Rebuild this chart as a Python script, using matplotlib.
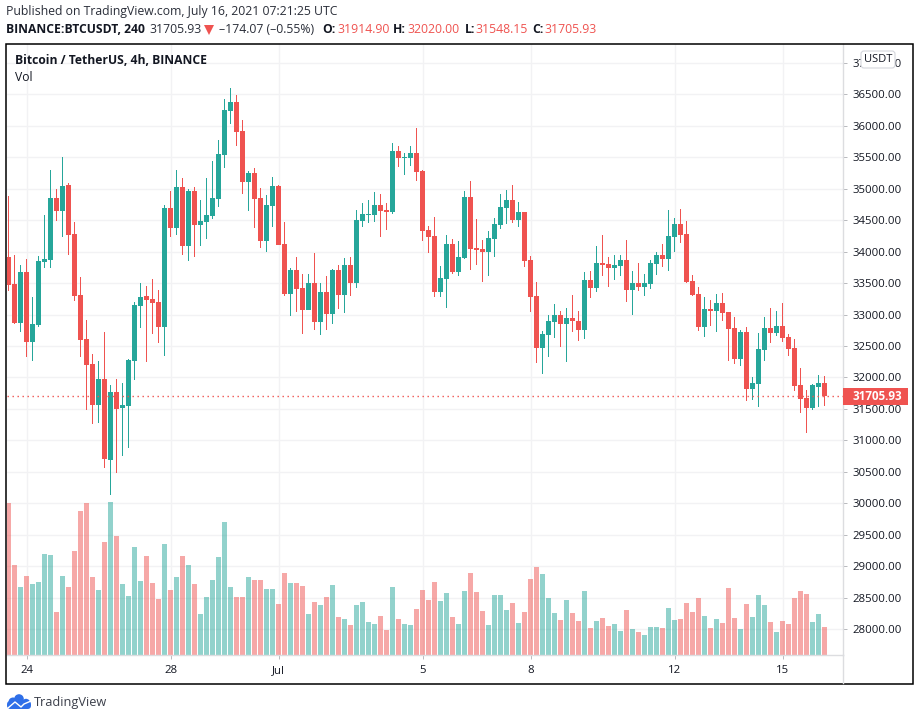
import matplotlib
matplotlib.use("Agg")
import matplotlib.pyplot as plt
from matplotlib.patches import Rectangle, FancyBboxPatch, Circle

# --- data (BTCUSDT 4h candles) ---
opens = [33916,33487,32867,33677,32565,32835,33836,33868,34853,34647,35060,34281,33312,32613,32216,31564,31977,30690,31771,31516,
 31548,32263,33137,33296,33248,33201,32803,34694,34377,35028,34091,34964,34424,34472,34567,34837,35536,36235,36378,35918,
 35107,35250,34853,34170,34726,35043,34122,33328,33709,33423,33073,33502,32883,33359,33010,33709,33312,33788,33502,34487,
 34583,34583,34742,34662,34630,35600,35488,35488,35568,35282,34344,34249,33359,33566,34122,33677,33900,34869,34058,34043,
 33995,34201,34424,34694,34821,34503,34630,33868,33296,32470,32676,32883,32994,32851,32946,32899,32756,33550,33423,33820,
 33804,33741,33772,33868,33391,33502,33439,33486,33804,33947,33884,34233,34440,34281,33534,33328,32803,33089,33057,33185,
 33042,32787,32295,32724,31818,31898,32438,32787,32708,32819,32644,32470,31882,31675,31516,31850,31914.90]
closes = [33476,32867,33677,32565,32851,33852,33884,34853,34647,35044,34265,33296,32597,32200,31564,31977,30706,31771,31501,31564,
 32279,33153,33280,33232,33185,32803,34694,34377,35028,34091,34964,34424,34488,34583,34853,35552,36251,36378,35902,35107,
 35250,34837,34170,34742,35044,34106,33328,33709,33407,33073,33502,32883,33359,33010,33709,33312,33788,33502,34503,34599,
 34599,34742,34646,34630,35600,35488,35504,35568,35266,34329,34233,33359,33582,34122,33677,33915,34869,34043,34027,33995,
 34217,34440,34710,34821,34503,34630,33852,33280,32470,32692,32899,32994,32851,32946,32899,32756,33550,33423,33820,33788,
 33741,33788,33868,33391,33502,33439,33502,33820,33947,33884,34249,34440,34265,33518,33312,32803,33089,33057,33185,33026,
 32771,32295,32724,31818,31914,32454,32787,32708,32819,32628,32454,31866,31659,31516,31882,31914,31705.93]
highs = [34885,33948,33789,33884,33280,33932,34583,35298,34996,35505,35092,34472,33598,32915,32374,32263,32724,31882,31977,31914,
 32295,33201,33502,33455,33566,33391,34742,34964,35298,35171,34996,35028,34821,35171,35441,35775,36426,36601,36490,36092,
 35282,35330,35012,34901,35187,35059,34472,33741,33915,33645,33645,33979,33502,33614,33725,33788,33900,33915,34662,34773,
 34821,34948,34916,34773,35727,35679,35568,35679,35965,35298,34408,34551,33773,34265,34201,34170,34964,35123,34519,34186,
 34329,34535,34916,34980,35059,34789,34630,33931,33518,32740,32994,33169,33057,33105,33312,33057,33677,33693,34090,34265,
 33915,33947,33947,34185,33693,33820,33645,33868,33995,34122,34662,34535,34678,34487,33629,33439,33280,33232,33328,33343,
 33042,32962,32756,32803,32009,32708,32962,33105,33057,33185,32692,32613,32152,31802,31898,32041,32020.00]
lows = [33381,32851,32724,32327,32263,32803,33741,33741,34488,34234,33948,33216,32327,31485,31262,31278,30563,30134,30484,30754,
 30881,31961,32788,32247,32692,32549,32343,34234,34265,33948,33852,33916,34091,34202,34520,34710,35330,36029,35679,34917,
 34647,34377,34059,34001,34392,34106,33296,32978,33042,32692,33073,32756,32676,32756,32851,33089,33026,33296,33423,34392,
 34456,34472,34233,34344,34599,35345,35218,35361,35123,34170,33979,33280,33280,33105,33645,33614,33884,33709,33788,33518,
 33614,33915,34360,34440,34456,34392,33757,33042,32231,32057,32327,32628,32485,32247,32724,32581,32613,33264,33359,33614,
 33439,33550,33614,33200,32994,33375,33296,33407,33629,33756,33693,33995,34138,33502,33296,32740,32644,32819,32724,32899,
 32263,32215,32184,31627,31643,31532,32263,32549,32660,32565,32343,31786,31437,31119,31485,31532,31548.15]
volumes = [152,90,68,79,71,73,101,100,43,79,68,104,144,152,78,65,113,153,119,71,
 59,108,74,99,72,56,111,65,78,99,90,71,41,58,75,98,133,68,58,58,
 78,75,75,66,66,51,82,72,72,69,41,53,50,58,70,38,36,30,50,53,
 33,31,39,25,68,36,31,30,46,65,55,73,54,62,38,31,64,82,63,44,
 30,60,60,45,52,32,43,76,88,81,57,42,35,55,42,34,64,27,34,37,
 29,31,24,45,26,23,20,28,28,27,47,35,36,52,43,57,39,27,36,32,
 67,37,26,51,38,60,50,33,23,34,31,57,64,61,33,41,28]
date_tick_index = [3, 27, 45, 69, 87, 111, 129]
date_tick_labels = ["24", "28", "Jul", "5", "8", "12", "15"]
price_ticks = [28000 + 500 * k for k in range(19)]
last_price = 31705.93

UP, DOWN = "#26a69a", "#ef5350"
GRID = "#f2f2f4"
SEP = "#dcdde0"
TXT = "#131722"
FONT = "Open Sans"
plt.rcParams["font.family"] = [FONT, "DejaVu Sans"]

W, H = 920, 720
fig = plt.figure(figsize=(W / 100, H / 100), dpi=100, facecolor="white")
ax = fig.add_axes([7 / W, (H - 655) / H, 836 / W, 611 / H])
ax.set_xlim((7 - 8.52) / 6, (843 - 8.52) / 6)
ax.set_ylim(36500 - (655 - 94.3) * 15.89, 36500 + (94.3 - 44) * 15.89)
for s in ("top", "left"):
    ax.spines[s].set_visible(False)
for s in ("bottom", "right"):
    ax.spines[s].set_color(SEP)
    ax.spines[s].set_linewidth(1.0)

idx = list(range(len(opens)))
colors = [UP if c >= o else DOWN for o, c in zip(opens, closes)]

# Volume on its own scale
vx = ax.twinx()
vx.set_ylim(0, 611)
vx.axis("off")
vx.bar(idx, volumes, width=5 / 6, color=colors, alpha=0.5, lw=0, zorder=1)
ax.set_zorder(vx.get_zorder() + 1)
ax.patch.set_visible(False)
vx.patch.set_visible(True)
vx.patch.set_facecolor("white")
# grid under the bars
for p in price_ticks:
    vx.axhline((p - ax.get_ylim()[0]) / 15.89, color=GRID, lw=1.0, zorder=0)
for t in date_tick_index:
    vx.axvline(t, color=GRID, lw=1.0, zorder=0)

ax.bar(idx, [h - l for h, l in zip(highs, lows)], bottom=lows,
       width=1 / 6, color=colors, lw=0, zorder=3)
ax.bar(idx, [abs(c - o) for o, c in zip(opens, closes)],
       bottom=[min(o, c) for o, c in zip(opens, closes)],
       width=5 / 6, color=colors, lw=0, zorder=4)
ax.axhline(last_price, color=DOWN, lw=1.0, ls=(0, (1, 2.6)), zorder=5)

ax.yaxis.tick_right()
ax.set_yticks(price_ticks)
ax.set_yticklabels([f"{p:.2f}" for p in price_ticks], fontsize=8.2, color=TXT)
ax.set_xticks(date_tick_index)
ax.set_xticklabels(date_tick_labels, fontsize=8.2, color=TXT)
ax.tick_params(axis="y", length=3, width=0.7, color="#b8b9bd", pad=4)
ax.tick_params(axis="x", length=3, width=0.7, color="#b8b9bd", pad=4)

# Overlay in pixel coordinates for chrome
ov = fig.add_axes([0, 0, 1, 1], zorder=20)
ov.set_xlim(0, W)
ov.set_ylim(H, 0)
ov.axis("off")
ov.patch.set_visible(False)

ov.add_patch(Rectangle((6.5, 43.5), 906.5, 640, fill=False, ec="black", lw=1.1))
ov.plot([843, 843], [655, 683], color=SEP, lw=1.0)

def T(x, y, s, size=8.6, color=TXT, weight="normal", ha="left"):
    ov.text(x, y, s, fontsize=size, color=color, fontweight=weight, ha=ha, va="center")

T(6, 12, "Published on TradingView.com, July 16, 2021 07:21:25 UTC", 8.8, "#2a2e39")
T(6, 29.5, "BINANCE:BTCUSDT, 240", 8.7, TXT, "bold")
T(149, 29.5, "31705.93", 8.8, "#2a2e39")
ov.plot([209.5], [29.5], marker="v", ms=7.2, color=DOWN, mew=0)
T(219, 29.5, "\u2013174.07 (\u20130.55%)", 8.8, "#2a2e39")
for x, lab, xv, val in [(322, "O:", 337, "31914.90"), (393, "H:", 407, "32020.00"),
                        (465, "L:", 475, "31548.15"), (532, "C:", 544, "31705.93")]:
    T(x, 29.5, lab, 8.7, TXT, "bold")
    T(xv, 29.5, val, 8.8, DOWN)

T(15, 60, "Bitcoin / TetherUS, 4h, BINANCE", 8.7, TXT, "bold")
T(15, 77.5, "Vol", 8.7, TXT)

# USDT badge
ov.add_patch(FancyBboxPatch((861, 51), 34, 17, boxstyle="round,pad=0,rounding_size=3",
                            fc="white", ec="#d4d6dc", lw=0.8, zorder=5))
T(878, 59.5, "USDT", 8.0, TXT, ha="center")
ov.texts[-1].set_zorder(6)

# Last price label
ov.add_patch(Rectangle((843, 388), 65, 17, fc=DOWN, ec="none", zorder=5))
ov.text(877, 396.5, f"{last_price:.2f}", fontsize=8.4, color="white", fontweight="bold",
        ha="center", va="center", zorder=6)

# TradingView logo
BLUE = "#2f6fe8"
ov.add_patch(FancyBboxPatch((7, 701), 24, 8, boxstyle="round,pad=0,rounding_size=3.5", fc=BLUE, ec="none"))
for cx, cy, r in [(13, 702, 4.5), (19, 699, 4.8), (26, 703, 4.2)]:
    ov.add_patch(Circle((cx, cy), r, fc=BLUE, ec="none"))
ov.plot([8, 15, 21, 24, 31], [708, 702, 707, 704, 701], color="white", lw=1.0)
T(34, 702.5, "TradingView", 9.2, "#3b3f4a")

fig.savefig("out.png", dpi=100, facecolor="white")
